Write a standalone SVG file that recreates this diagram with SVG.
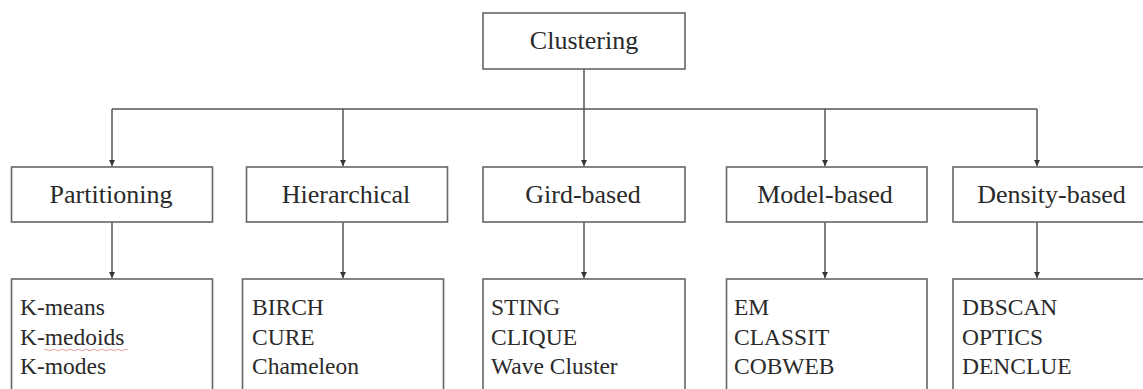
<svg xmlns="http://www.w3.org/2000/svg" width="1143" height="389" viewBox="0 0 1143 389">
  <defs>
    <marker id="arr" markerUnits="userSpaceOnUse" markerWidth="7" markerHeight="7" refX="6" refY="3.5" orient="auto">
      <path d="M0,0.5 L6,3.5 L0,6.5 z" fill="#333"/>
    </marker>
    <style>
      .box { fill: #fff; stroke: #666; stroke-width: 1.6; }
      .t2 { font-family: "Liberation Serif", "Times New Roman", serif; font-size: 26px; fill: #2a2a2a; text-anchor: middle; }
      .t3 { font-family: "Liberation Serif", "Times New Roman", serif; font-size: 23.5px; fill: #2a2a2a; }
      .con { fill: none; stroke: #555; stroke-width: 1.5; }
    </style>
  </defs>
  <rect width="1143" height="389" fill="#fff"/>

  <g id="connectors">
    <path class="con" d="M112,109 H1037"/>
    <path class="con" d="M584,69 V166" marker-end="url(#arr)"/>
    <path class="con" d="M112,109 V166" marker-end="url(#arr)"/>
    <path class="con" d="M343,109 V166" marker-end="url(#arr)"/>
    <path class="con" d="M825,109 V166" marker-end="url(#arr)"/>
    <path class="con" d="M1037,109 V166" marker-end="url(#arr)"/>
    <path class="con" d="M112,222 V278" marker-end="url(#arr)"/>
    <path class="con" d="M343,222 V278" marker-end="url(#arr)"/>
    <path class="con" d="M584,222 V278" marker-end="url(#arr)"/>
    <path class="con" d="M825,222 V278" marker-end="url(#arr)"/>
    <path class="con" d="M1037,222 V278" marker-end="url(#arr)"/>
  </g>

  <g id="clustering">
    <rect class="box" x="483" y="13" width="202" height="56"/>
    <text class="t2" x="584" y="49">Clustering</text>
  </g>

  <g id="partitioning">
    <rect class="box" x="11.5" y="167" width="201" height="55"/>
    <text class="t2" x="111" y="203">Partitioning</text>
  </g>
  <g id="hierarchical">
    <rect class="box" x="246.5" y="167" width="201" height="55"/>
    <text class="t2" x="346" y="203">Hierarchical</text>
  </g>
  <g id="gird-based">
    <rect class="box" x="483" y="167" width="202" height="55"/>
    <text class="t2" x="583" y="203">Gird-based</text>
  </g>
  <g id="model-based">
    <rect class="box" x="726.5" y="167" width="200.5" height="55"/>
    <text class="t2" x="825" y="203">Model-based</text>
  </g>
  <g id="density-based">
    <rect class="box" x="953" y="167" width="200" height="55"/>
    <text class="t2" x="1051.5" y="203">Density-based</text>
  </g>

  <g id="partitioning-methods">
    <rect class="box" x="11.5" y="279" width="201" height="130"/>
    <text class="t3" x="20" y="315">K-means</text>
    <text class="t3" x="20" y="344.5">K-medoids</text>
    <text class="t3" x="20" y="374">K-modes</text>
    <path d="M44,350 q2,-1.5 4,0 t4,0 t4,0 t4,0 t4,0 t4,0 t4,0 t4,0 t4,0 t4,0 t4,0 t4,0 t4,0 t4,0 t4,0 t4,0 t4,0 t4,0 t4,0 t4,0 t4,0" fill="none" stroke="#e9a3a3" stroke-width="1"/>
  </g>
  <g id="hierarchical-methods">
    <rect class="box" x="242.5" y="279" width="201" height="130"/>
    <text class="t3" x="252" y="315">BIRCH</text>
    <text class="t3" x="252" y="344.5">CURE</text>
    <text class="t3" x="252" y="374">Chameleon</text>
  </g>
  <g id="grid-methods">
    <rect class="box" x="483" y="279" width="202" height="130"/>
    <text class="t3" x="491" y="315">STING</text>
    <text class="t3" x="491" y="344.5">CLIQUE</text>
    <text class="t3" x="491" y="374">Wave Cluster</text>
  </g>
  <g id="model-methods">
    <rect class="box" x="726.5" y="279" width="200.5" height="130"/>
    <text class="t3" x="734" y="315">EM</text>
    <text class="t3" x="734" y="344.5">CLASSIT</text>
    <text class="t3" x="734" y="374">COBWEB</text>
  </g>
  <g id="density-methods">
    <rect class="box" x="953" y="279" width="200" height="130"/>
    <text class="t3" x="962" y="315">DBSCAN</text>
    <text class="t3" x="962" y="344.5">OPTICS</text>
    <text class="t3" x="962" y="374">DENCLUE</text>
  </g>
</svg>
